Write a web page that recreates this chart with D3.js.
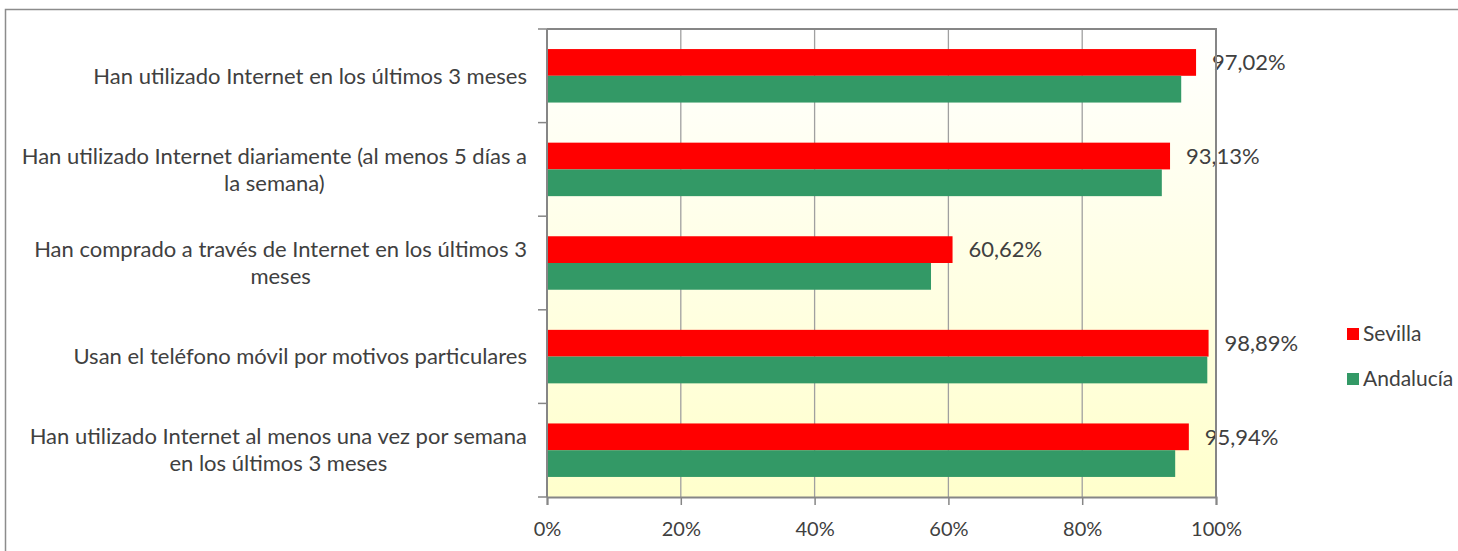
<!DOCTYPE html>
<html>
<head>
<meta charset="utf-8">
<script src="https://cdn.jsdelivr.net/npm/d3@7"></script>
<style>
  body { margin: 0; background: #fff; }
  svg text { font-family: Lato, "Open Sans", sans-serif; fill: #404040; }
</style>
</head>
<body>
<svg id="chart" width="1458" height="551"></svg>
<script>
// categories (top to bottom), each split in lines like the original
const categories = [
  ['Han utilizado Internet en los últimos 3 meses'],
  ['Han utilizado Internet diariamente (al menos 5 días a', 'la semana)'],
  ['Han comprado a través de Internet en los últimos 3', 'meses'],
  ['Usan el teléfono móvil por motivos particulares'],
  ['Han utilizado Internet al menos una vez por semana', 'en los últimos 3 meses']
];
const seriesNames = ['Sevilla', 'Andalucía'];
const sevilla = [97.02, 93.13, 60.62, 98.89, 95.94];
const andalucia = [94.8, 91.9, 57.4, 98.7, 93.9];
const xTicks = [0, 20, 40, 60, 80, 100];

const colors = { 'Sevilla': '#ff0000', 'Andalucía': '#339966' };

const svg = d3.select('#chart');
const margin = { top: 29, left: 547, right: 242, bottom: 54 };
const W = 1458 - margin.left - margin.right;
const H = 551 - margin.top - margin.bottom;

// outer chart frame (runs off the right and bottom edges)
svg.append('rect')
  .attr('x', 5.5).attr('y', 9.5)
  .attr('width', 1470).attr('height', 600)
  .attr('fill', 'none')
  .attr('stroke', '#8c8c8c')
  .attr('stroke-width', 1.5);

const defs = svg.append('defs');
const grad = defs.append('linearGradient')
  .attr('id', 'bg').attr('x1', 0).attr('y1', 0).attr('x2', 0).attr('y2', 1);
grad.append('stop').attr('offset', '0%').attr('stop-color', '#ffffff');
grad.append('stop').attr('offset', '100%').attr('stop-color', '#ffffcc');

const g = svg.append('g').attr('transform', `translate(${margin.left},${margin.top})`);

const x = d3.scaleLinear().domain([0, 100]).range([0, W]);
const y = d3.scaleBand().domain(d3.range(categories.length)).range([0, H]);
const y1 = d3.scaleBand().domain(seriesNames).range([0, y.bandwidth()]).paddingOuter(0.75);

g.append('rect')
  .attr('width', W).attr('height', H)
  .attr('fill', 'url(#bg)');

// vertical gridlines
g.append('g')
  .selectAll('line')
  .data(xTicks.slice(1, -1))
  .join('line')
  .attr('x1', d => x(d)).attr('x2', d => x(d))
  .attr('y1', 0).attr('y2', H)
  .attr('stroke', '#a0a0a0')
  .attr('stroke-width', 1.3);

// bars
const rows = categories.map((c, i) => ({ i, values: [
  { key: 'Sevilla', value: sevilla[i] },
  { key: 'Andalucía', value: andalucia[i] }
] }));

const rowG = g.selectAll('.row')
  .data(rows)
  .join('g')
  .attr('class', 'row')
  .attr('transform', d => `translate(0,${y(d.i)})`);

rowG.selectAll('rect')
  .data(d => d.values)
  .join('rect')
  .attr('x', 0)
  .attr('y', d => y1(d.key))
  .attr('width', d => x(d.value))
  .attr('height', y1.bandwidth())
  .attr('fill', d => colors[d.key]);

// data labels (Sevilla only)
rowG.append('text')
  .attr('x', d => x(sevilla[d.i]) + 16)
  .attr('y', y1('Sevilla') + y1.bandwidth() / 2)
  .attr('dy', '0.35em')
  .style('font-size', '22px')
  .text(d => sevilla[d.i].toFixed(2).replace('.', ',') + '%');

// plot border (top, right)
g.append('path')
  .attr('d', `M0,0H${W}V${H}`)
  .attr('fill', 'none')
  .attr('stroke', '#868686')
  .attr('stroke-width', 2);

// left axis with ticks at band boundaries
const leftAx = g.append('g');
leftAx.append('line')
  .attr('x1', 0).attr('x2', 0).attr('y1', 0).attr('y2', H)
  .attr('stroke', '#868686').attr('stroke-width', 2);
leftAx.selectAll('.tk')
  .data(d3.range(categories.length + 1))
  .join('line')
  .attr('class', 'tk')
  .attr('x1', -9).attr('x2', 0)
  .attr('y1', d => d === categories.length ? H : y(d))
  .attr('y2', d => d === categories.length ? H : y(d))
  .attr('stroke', '#868686').attr('stroke-width', 1.5);

// bottom axis
const xAxis = g.append('g')
  .attr('transform', `translate(0,${H})`)
  .call(d3.axisBottom(x).tickValues(xTicks).tickSize(8).tickFormat(d => d + '%'));
xAxis.select('.domain').attr('stroke', '#868686').attr('stroke-width', 2);
xAxis.selectAll('.tick line').attr('stroke', '#868686').attr('stroke-width', 1.5);
xAxis.selectAll('.tick text')
  .attr('y', 25)
  .style('font-size', '20px')
  .style('font-family', 'Lato, sans-serif')
  .attr('fill', '#404040');

// category labels, lines centred inside a right-aligned block
const labelRight = 527 - margin.left;
categories.forEach((lines, i) => {
  const t = g.append('text')
    .attr('text-anchor', 'middle')
    .style('font-size', '22px');
  const cy = y(i) + y.bandwidth() / 2;
  const lh = 27;
  const spans = lines.map((ln, j) => t.append('tspan')
    .attr('y', cy + (j - (lines.length - 1) / 2) * lh)
    .attr('dy', '0.35em')
    .text(ln));
  const maxW = d3.max(spans, s => s.node().getComputedTextLength());
  spans.forEach(s => s.attr('x', labelRight - maxW / 2));
});

// legend
const legend = svg.append('g').attr('transform', 'translate(1347,334)');
seriesNames.forEach((k, i) => {
  const lg = legend.append('g').attr('transform', `translate(0,${i * 45})`);
  lg.append('rect')
    .attr('x', 0).attr('y', -6)
    .attr('width', 12).attr('height', 12)
    .attr('fill', colors[k]);
  lg.append('text')
    .attr('x', 16).attr('y', 0)
    .attr('dy', '0.35em')
    .style('font-size', '21px')
    .text(k);
});
</script>
</body>
</html>
